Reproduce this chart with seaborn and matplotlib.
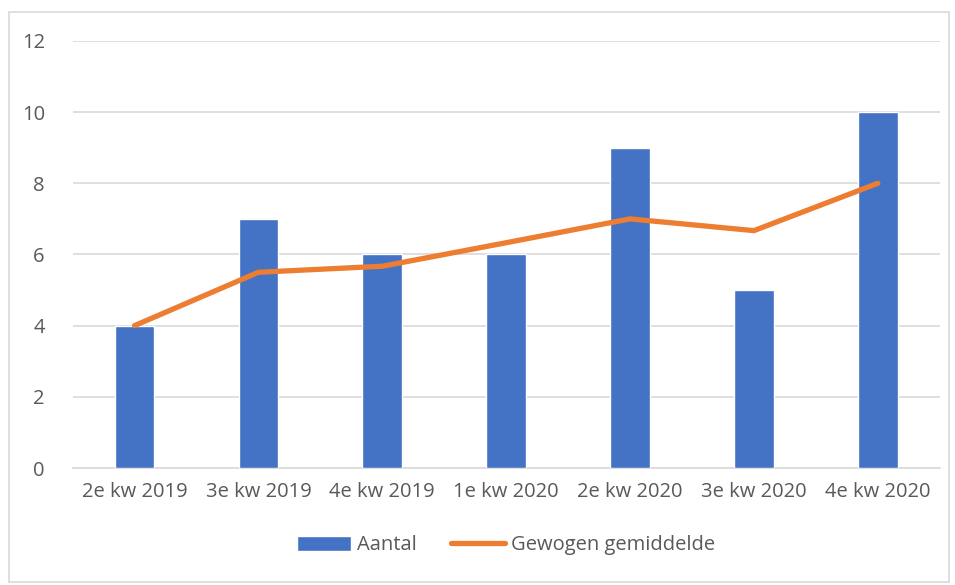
import matplotlib
matplotlib.use("Agg")
import matplotlib.pyplot as plt
import seaborn as sns
import pandas as pd
from matplotlib.patches import Rectangle

categories = ["2e kw 2019", "3e kw 2019", "4e kw 2019", "1e kw 2020",
              "2e kw 2020", "3e kw 2020", "4e kw 2020"]
aantal = [4, 7, 6, 6, 9, 5, 10]
gewogen = [4, 5.5, 5.67, 6.33, 7, 6.67, 8]

sns.set_theme(style="white")
plt.rcParams['font.family'] = ['Open Sans', 'DejaVu Sans']

df = pd.DataFrame({"kwartaal": categories, "Aantal": aantal,
                   "Gewogen gemiddelde": gewogen})

fig = plt.figure(figsize=(9.55, 5.85), dpi=100)
ax = fig.add_axes([0.076, 0.2, 0.908, 0.73])

sns.barplot(data=df, x="kwartaal", y="Aantal", color="#4472C4",
            width=0.32, saturation=1, ax=ax, label="Aantal", zorder=3)
sns.lineplot(data=df, x="kwartaal", y="Gewogen gemiddelde", color="#ED7D31",
             linewidth=3.8, ax=ax, label="Gewogen gemiddelde", zorder=4,
             solid_capstyle="round", sort=False)

ax.set_ylim(0, 12)
ax.set_yticks(range(0, 13, 2))
ax.set_xlim(-0.5, len(categories) - 0.5)
ax.yaxis.grid(True, color="#D9D9D9", linewidth=1.2, zorder=0)
ax.xaxis.grid(False)
for s in ["top", "right", "left"]:
    ax.spines[s].set_visible(False)
ax.spines["bottom"].set_color("#D9D9D9")
ax.spines["bottom"].set_linewidth(1.2)
ax.set_xlabel("")
ax.set_ylabel("")
ax.tick_params(axis="both", length=0, labelsize=14.5, colors="#595959", pad=10)
ax.tick_params(axis="y", pad=20)

h, l = ax.get_legend_handles_labels()
order = [l.index("Aantal"), l.index("Gewogen gemiddelde")]
leg = ax.legend([h[i] for i in order], [l[i] for i in order],
                loc="upper center", bbox_to_anchor=(0.5, -0.115),
                ncol=2, frameon=False, fontsize=14.5, handlelength=2.7,
                handleheight=0.75, handletextpad=0.3, columnspacing=1.7)
for t in leg.get_texts():
    t.set_color("#595959")

fig.patches.append(Rectangle((0.009, 0.005), 0.985, 0.975, transform=fig.transFigure,
                             fill=False, edgecolor="#D9D9D9", linewidth=1.2))

fig.savefig("out.png", dpi=100)
